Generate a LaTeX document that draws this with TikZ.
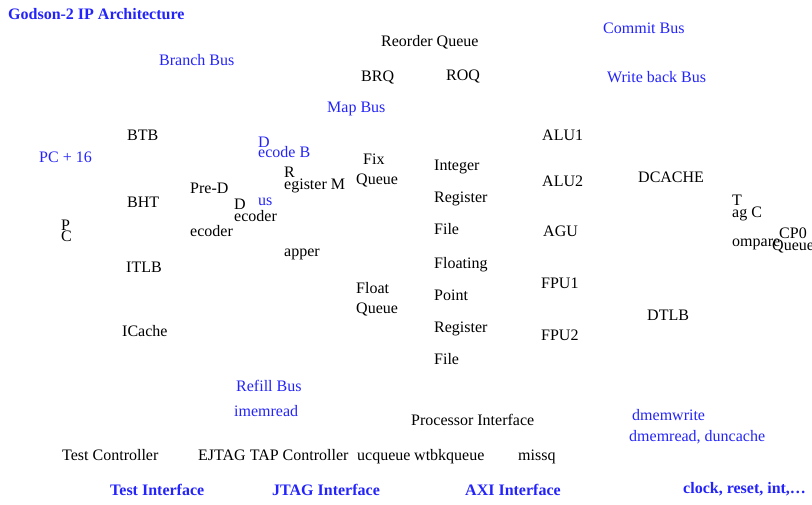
\documentclass[tikz,border=0pt]{standalone}
\usepackage{fontspec}
\setmainfont{Liberation Serif}
\usepackage{xcolor}
\usepackage{tikz}
\usetikzlibrary{positioning}
\definecolor{busblue}{RGB}{36, 36, 250}
\tikzstyle{unit} = [anchor=base west, inner sep=0pt, text=black, font=\fontsize{16}{16}\selectfont]
\tikzstyle{bus} = [unit, text=busblue]
\tikzstyle{port} = [unit, text=busblue, font=\fontsize{16}{16}\selectfont\bfseries]

\begin{document}
\begin{tikzpicture}[x=1pt, y=-1pt]
    \useasboundingbox (0, 0) rectangle (812, 504);

    % Title
    \node[port] (title) at (8, 19) {Godson-2 IP Architecture};

    % Buses
    \node[bus] (commit) at (603, 33) {Commit Bus};
    \node[bus] (branch) at (159, 65) {Branch Bus};
    \node[bus] (wback) at (607, 82) {Write back Bus};
    \node[bus] (map) at (327, 112) {Map Bus};
    \node[bus] (pc16) at (39, 162) {PC + 16};
    \node[bus] (decbus1) at (258, 147) {D};
    \node[bus] (decbus2) at (258, 157) {ecode B};
    \node[bus] (decbus3) at (258, 205) {us};
    \node[bus] (refill) at (236, 391) {Refill Bus};
    \node[bus] (imem) at (234, 416) {imemread};
    \node[bus] (dmemw) at (632, 420) {dmemwrite};
    \node[bus] (dmemr) at (629, 441) {dmemread, duncache};

    % Reorder queue
    \node[unit] (roqtop) at (381, 46) {Reorder Queue};
    \node[unit] (brq) at (361, 81) {BRQ};
    \node[unit] (roq) at (446, 80) {ROQ};

    % Fetch
    \node[unit] (pc1) at (61, 230) {P};
    \node[unit] (pc2) at (61, 241) {C};
    \node[unit] (btb) at (127, 140) {BTB};
    \node[unit] (bht) at (127, 207) {BHT};
    \node[unit] (itlb) at (126, 272) {ITLB};
    \node[unit] (icache) at (122, 336) {ICache};

    % Decode and map
    \node[unit] (pred1) at (190, 193) {Pre-D};
    \node[unit] (pred2) at (190, 236) {ecoder};
    \node[unit] (dec1) at (234, 209) {D};
    \node[unit] (dec2) at (234, 221) {ecoder};
    \node[unit] (regm1) at (284, 177) {R};
    \node[unit] (regm2) at (284, 189) {egister M};
    \node[unit] (regm3) at (284, 256) {apper};

    % Issue queues
    \node[unit] (fixq1) at (363, 164) {Fix};
    \node[unit] (fixq2) at (356, 184) {Queue};
    \node[unit] (fltq1) at (356, 293) {Float};
    \node[unit] (fltq2) at (356, 313) {Queue};

    % Register files
    \node[unit] (irf1) at (434, 170) {Integer};
    \node[unit] (irf2) at (434, 202) {Register};
    \node[unit] (irf3) at (434, 234) {File};
    \node[unit] (frf1) at (434, 268) {Floating};
    \node[unit] (frf2) at (434, 300) {Point};
    \node[unit] (frf3) at (434, 332) {Register};
    \node[unit] (frf4) at (434, 364) {File};

    % Function units
    \node[unit] (alu1) at (542, 140) {ALU1};
    \node[unit] (alu2) at (542, 186) {ALU2};
    \node[unit] (agu) at (543, 236) {AGU};
    \node[unit] (fpu1) at (541, 288) {FPU1};
    \node[unit] (fpu2) at (541, 340) {FPU2};

    % Memory access
    \node[unit] (dcache) at (638, 182) {DCACHE};
    \node[unit] (dtlb) at (647, 320) {DTLB};
    \node[unit] (tagc1) at (732, 205) {T};
    \node[unit] (tagc2) at (732, 217) {ag C};
    \node[unit] (tagc3) at (732, 246) {ompare};
    \node[unit] (cp01) at (779, 238) {CP0};
    \node[unit] (cp02) at (772, 250) {Queue};

    % Interfaces
    \node[unit] (procif) at (411, 425) {Processor Interface};
    \node[unit] (testc) at (62, 460) {Test Controller};
    \node[unit] (ejtag) at (198, 460) {EJTAG TAP Controller};
    \node[unit] (ucq) at (357, 460) {ucqueue};
    \node[unit] (wtbk) at (414, 460) {wtbkqueue};
    \node[unit] (missq) at (518, 460) {missq};

    % Ports
    \node[port] (testif) at (110, 495) {Test Interface};
    \node[port] (jtagif) at (272, 495) {JTAG Interface};
    \node[port] (axiif) at (465, 495) {AXI Interface};
    \node[port] (misc) at (683, 493) {clock, reset, int,\dots};
\end{tikzpicture}
\end{document}
